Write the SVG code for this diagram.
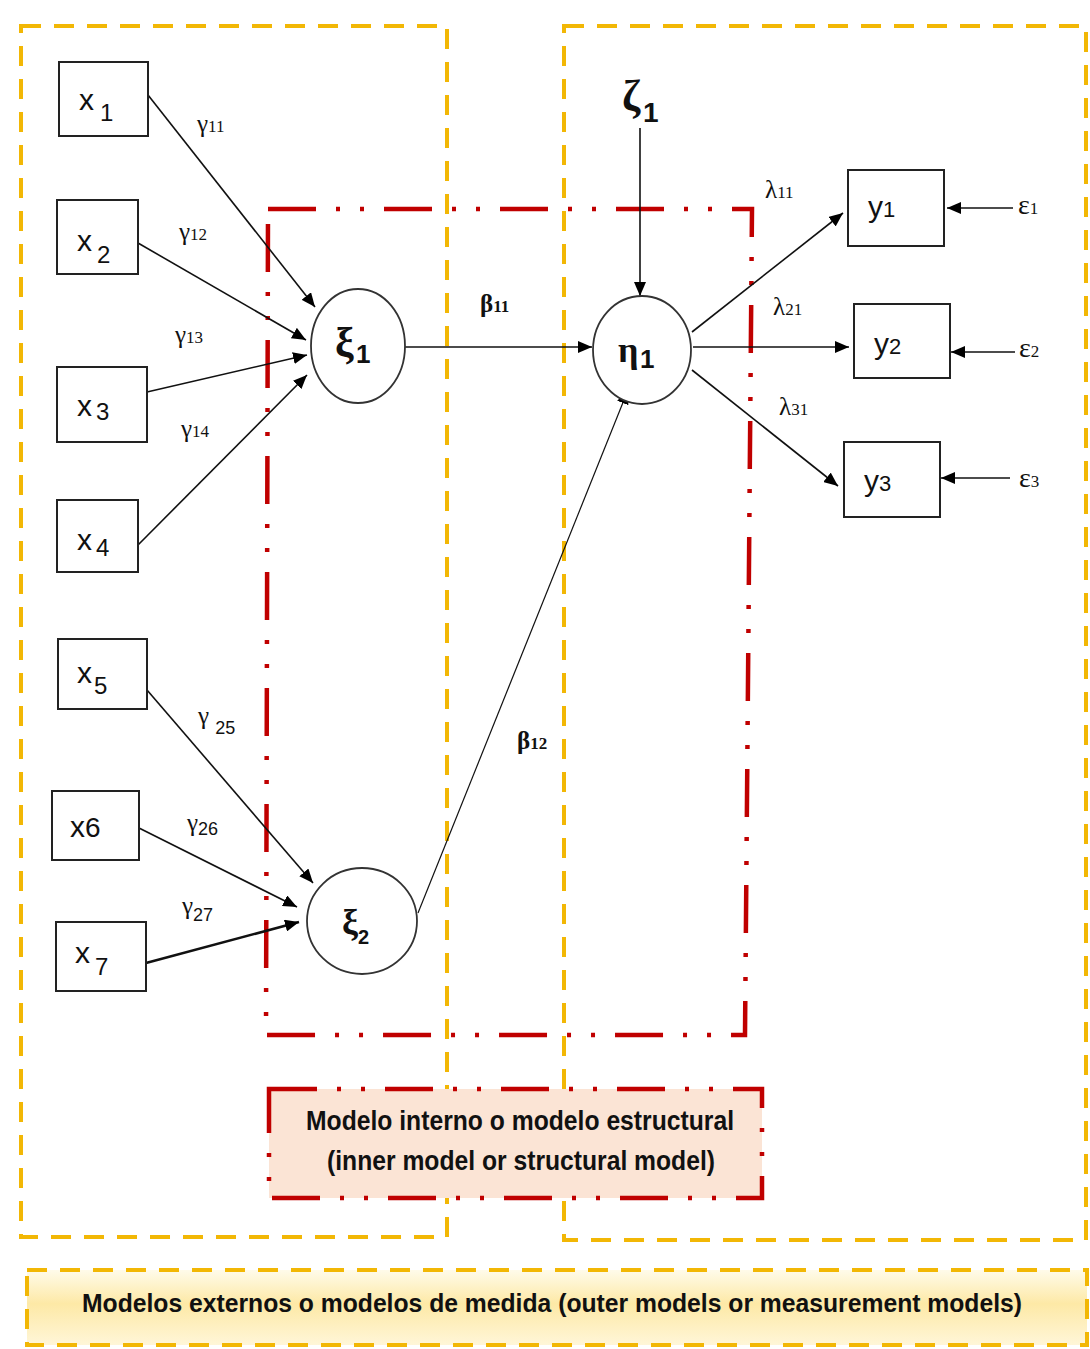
<svg xmlns="http://www.w3.org/2000/svg" width="1090" height="1349" viewBox="0 0 1090 1349">
<defs>
<marker id="ah" markerUnits="userSpaceOnUse" markerWidth="16" markerHeight="12" refX="14" refY="6" orient="auto">
<path d="M0,0 L14,6 L0,12 Z" fill="#000"/>
</marker>
<linearGradient id="yg" x1="0" y1="0" x2="0" y2="1">
<stop offset="0" stop-color="#fffbea"/>
<stop offset="0.45" stop-color="#fde9a6"/>
<stop offset="1" stop-color="#fff6d8"/>
</linearGradient>
<style>
.yb{fill:none;stroke:#f2b705;stroke-width:4;stroke-dasharray:20 13}
.rb{fill:none;stroke:#c00000;stroke-width:4.5;stroke-dasharray:48 20 4 20 4 20}
.box{fill:#fff;stroke:#222;stroke-width:2}
.lat{fill:#fff;stroke:#333;stroke-width:1.8}
.c{stroke:#111;stroke-width:1.6;fill:none;marker-end:url(#ah)}
.xl{font-family:"Liberation Sans",Arial,sans-serif;font-size:30px;fill:#111}
.xs{font-family:"Liberation Sans",Arial,sans-serif;font-size:24px;fill:#111}
.gk{font-family:"Liberation Serif","DejaVu Serif",serif;font-weight:bold;fill:#111}
.gn{font-family:"Liberation Sans",Arial,sans-serif;font-weight:bold;fill:#111}
.lb{font-family:"Liberation Serif","Times New Roman",serif;font-size:25px;fill:#111}
.ls{font-family:"Liberation Serif","Times New Roman",serif;font-size:17px;fill:#111}
.ss{font-family:"Liberation Sans",Arial,sans-serif;font-size:18px;fill:#111}
.ep{font-family:"Liberation Serif","Times New Roman",serif;font-size:28px;fill:#111}
.tt{font-family:"Liberation Sans",Arial,sans-serif;font-weight:bold;fill:#111}
</style>
</defs>

<g id="outer-left-frame"><rect class="yb" x="21" y="26" width="426" height="1211"/></g>
<g id="outer-right-frame"><rect class="yb" x="564" y="26" width="522" height="1214"/></g>
<g id="inner-frame"><path class="rb" d="M268,209 L752,209 L745,1035 L266,1035 Z"/></g>

<g id="inner-label">
<rect x="269" y="1089" width="493" height="109" fill="#fbe4d5"/>
<path class="rb" d="M269,1089 L762,1089 L762,1198 L269,1198 Z"/>
<text class="tt" x="520" y="1130" font-size="27" text-anchor="middle" textLength="428" lengthAdjust="spacingAndGlyphs">Modelo interno o modelo estructural</text>
<text class="tt" x="521" y="1170" font-size="27" text-anchor="middle" textLength="388" lengthAdjust="spacingAndGlyphs">(inner model or structural model)</text>
</g>

<g id="outer-label">
<rect x="27" y="1270" width="1060" height="75" fill="url(#yg)"/>
<rect class="yb" x="27" y="1270" width="1060" height="75"/>
<text class="tt" x="552" y="1312" font-size="26" text-anchor="middle" textLength="940" lengthAdjust="spacingAndGlyphs">Modelos externos o modelos de medida (outer models or measurement models)</text>
</g>

<g id="connectors">
<line class="c" x1="148" y1="95" x2="315" y2="307"/>
<line class="c" x1="138" y1="243" x2="306" y2="340"/>
<line class="c" x1="147" y1="392" x2="307" y2="355"/>
<line class="c" x1="138" y1="545" x2="307" y2="375"/>
<line class="c" x1="147" y1="690" x2="313" y2="883"/>
<line class="c" x1="139" y1="828" x2="297" y2="907"/>
<line class="c" x1="146" y1="963" x2="299" y2="922" style="stroke-width:2.6"/>
<line class="c" x1="405" y1="347" x2="592" y2="347"/>
<line class="c" x1="418" y1="913" x2="628" y2="390" style="stroke-width:1.2"/>
<line class="c" x1="640" y1="128" x2="640" y2="296"/>
<line class="c" x1="692" y1="332" x2="843" y2="213"/>
<line class="c" x1="693" y1="347" x2="849" y2="347"/>
<line class="c" x1="692" y1="370" x2="838" y2="486"/>
<line class="c" x1="1013" y1="208" x2="947" y2="208"/>
<line class="c" x1="1015" y1="352" x2="951" y2="352"/>
<line class="c" x1="1010" y1="478" x2="941" y2="478"/>
<text class="lb" x="197" y="132">γ<tspan class="ls">11</tspan></text>
<text class="lb" x="179" y="240">γ<tspan class="ls">12</tspan></text>
<text class="lb" x="175" y="343">γ<tspan class="ls">13</tspan></text>
<text class="lb" x="181" y="437">γ<tspan class="ls">14</tspan></text>
<text class="lb" x="198" y="724">γ <tspan class="ss" dy="10">25</tspan></text>
<text class="lb" x="187" y="831">γ<tspan class="ss" dy="4">26</tspan></text>
<text class="lb" x="182" y="914">γ<tspan class="ss" dy="7">27</tspan></text>
<text class="lb" x="480" y="312" font-weight="bold">β<tspan class="ls">11</tspan></text>
<text class="lb" x="517" y="749" font-weight="bold">β<tspan class="ls">12</tspan></text>
<text class="lb" x="765" y="198">λ<tspan class="ls">11</tspan></text>
<text class="lb" x="773" y="315">λ<tspan class="ls">21</tspan></text>
<text class="lb" x="779" y="415">λ<tspan class="ls">31</tspan></text>
</g>

<g id="x1"><rect class="box" x="59" y="62" width="89" height="74"/><text class="xl" x="79" y="110">x</text><text class="xs" x="100" y="121">1</text></g>
<g id="x2"><rect class="box" x="57" y="200" width="81" height="74"/><text class="xl" x="77" y="251">x</text><text class="xs" x="97" y="263">2</text></g>
<g id="x3"><rect class="box" x="57" y="367" width="90" height="75"/><text class="xl" x="77" y="416">x</text><text class="xs" x="96" y="420">3</text></g>
<g id="x4"><rect class="box" x="57" y="500" width="81" height="72"/><text class="xl" x="77" y="550">x</text><text class="xs" x="96" y="556">4</text></g>
<g id="x5"><rect class="box" x="58" y="639" width="89" height="70"/><text class="xl" x="77" y="683">x</text><text class="xs" x="94" y="694">5</text></g>
<g id="x6"><rect class="box" x="52" y="791" width="87" height="69"/><text class="xl" x="70" y="837">x<tspan style="font-size:28px">6</tspan></text></g>
<g id="x7"><rect class="box" x="56" y="922" width="90" height="69"/><text class="xl" x="75" y="963">x</text><text class="xs" x="95" y="975">7</text></g>

<g id="xi1"><ellipse class="lat" cx="358" cy="346" rx="47" ry="57"/><text class="gk" x="335" y="357" font-size="42">ξ</text><text class="gn" x="356" y="363" font-size="26">1</text></g>
<g id="xi2"><ellipse class="lat" cx="362" cy="921" rx="55" ry="53"/><text class="gk" x="342" y="934" font-size="36">ξ</text><text class="gn" x="358" y="944" font-size="20">2</text></g>
<g id="eta1"><ellipse class="lat" cx="642" cy="350" rx="49" ry="54"/><text class="gk" x="618" y="362" font-size="36">η</text><text class="gn" x="640" y="368" font-size="26">1</text></g>
<g id="zeta1"><text class="gk" x="622" y="110" font-size="44">ζ</text><text class="gn" x="643" y="122" font-size="28">1</text></g>

<g id="y1"><rect class="box" x="848" y="170" width="96" height="76"/><text class="xl" x="868" y="217">y<tspan class="xs" style="font-size:22px">1</tspan></text></g>
<g id="y2"><rect class="box" x="854" y="304" width="96" height="74"/><text class="xl" x="874" y="354">y<tspan class="xs" style="font-size:22px">2</tspan></text></g>
<g id="y3"><rect class="box" x="844" y="442" width="96" height="75"/><text class="xl" x="864" y="491">y<tspan class="xs" style="font-size:22px">3</tspan></text></g>

<g id="eps1"><text class="ep" x="1018" y="214">ε<tspan class="ls">1</tspan></text></g>
<g id="eps2"><text class="ep" x="1019" y="357">ε<tspan class="ls">2</tspan></text></g>
<g id="eps3"><text class="ep" x="1019" y="487">ε<tspan class="ls">3</tspan></text></g>
</svg>
